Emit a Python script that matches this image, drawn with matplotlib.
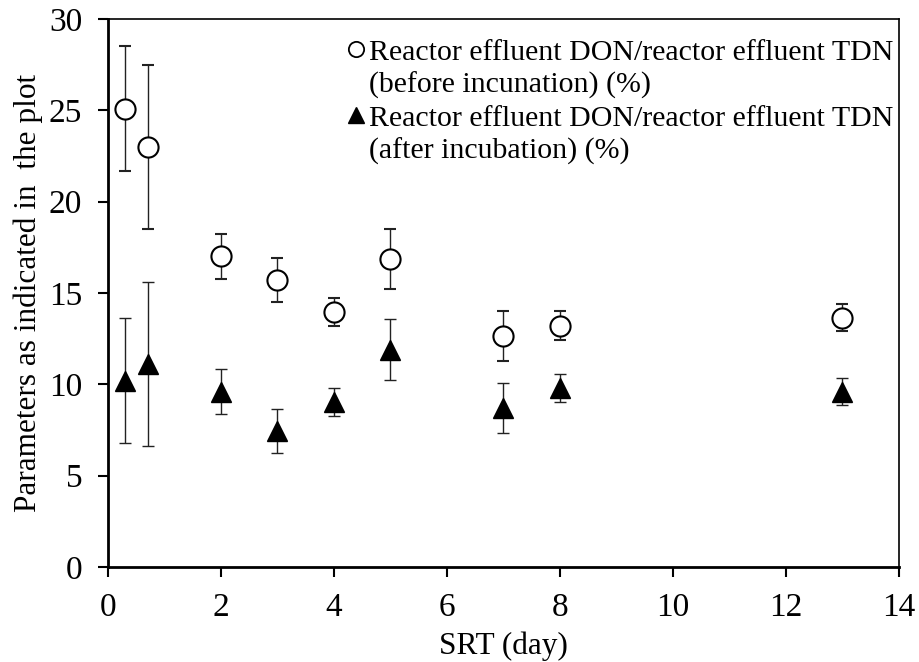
import matplotlib.pyplot as plt
from matplotlib.lines import Line2D

plt.rcParams['font.family'] = ['Liberation Serif', 'DejaVu Serif']

# SRT (day)
srt = [0.3, 0.7, 2, 3, 4, 5, 7, 8, 13]

# DON/TDN before incubation (%)
before_mean = [25.1, 23.0, 17.0, 15.7, 13.95, 16.85, 12.65, 13.2, 13.65]
before_err = [3.4, 4.5, 1.25, 1.2, 0.75, 1.63, 1.37, 0.8, 0.74]

# DON/TDN after incubation (%)
after_mean = [10.2, 11.1, 9.6, 7.45, 9.05, 11.9, 8.7, 9.8, 9.6]
after_err = [3.43, 4.5, 1.25, 1.2, 0.77, 1.65, 1.37, 0.79, 0.72]

label_before = ["Reactor effluent DON/reactor effluent TDN", "(before incunation) (%)"]
label_after = ["Reactor effluent DON/reactor effluent TDN", "(after incubation) (%)"]

fig = plt.figure(figsize=(9.19, 6.62), dpi=100)
ax = fig.add_axes([0.1175, 0.1435, 0.8605, 0.8278])

ax.errorbar(srt, before_mean, yerr=before_err, fmt='o', ms=14.5, mfc='white',
            mec='black', mew=1.5, ecolor='#222222', elinewidth=1.0,
            capsize=4.5, capthick=1.0, zorder=3)
ax.errorbar(srt, after_mean, yerr=after_err, fmt='^', ms=15, mfc='black',
            mec='black', mew=1.0, ecolor='#222222', elinewidth=1.0,
            capsize=4.5, capthick=1.0, zorder=3)

ax.set_xlim(0, 14)
ax.set_ylim(0, 30)
ax.set_xticks(range(0, 15, 2))
ax.set_yticks(range(0, 31, 5))
ax.tick_params(axis='both', direction='out', length=7, width=1.5,
               labelsize=24, pad=11.5)

for side in ['left', 'bottom']:
    ax.spines[side].set_linewidth(2.0)
for side in ['top', 'right']:
    ax.spines[side].set_linewidth(1.2)

ax.set_xlabel("SRT (day)", fontsize=22.5, labelpad=6)
ax.set_ylabel("Parameters as indicated in  the plot", fontsize=22.5, labelpad=4)

# legend: marker next to first line only
blank = Line2D([], [], linestyle='none', marker='')
h_before = Line2D([], [], linestyle='none', marker='o', ms=11, mfc='white',
                  mec='black', mew=1.3)
h_after = Line2D([], [], linestyle='none', marker='^', ms=11, mfc='black',
                 mec='black')
handles = [h_before, blank, h_after, blank]
labels = [label_before[0], label_before[1], label_after[0], label_after[1]]
ax.legend(handles, labels, loc='upper right', frameon=False, fontsize=21.5,
          handlelength=0.55, handletextpad=0.15, labelspacing=0.2,
          borderaxespad=0.0, bbox_to_anchor=(1.008, 0.986))

fig.savefig("out.png", dpi=100)
